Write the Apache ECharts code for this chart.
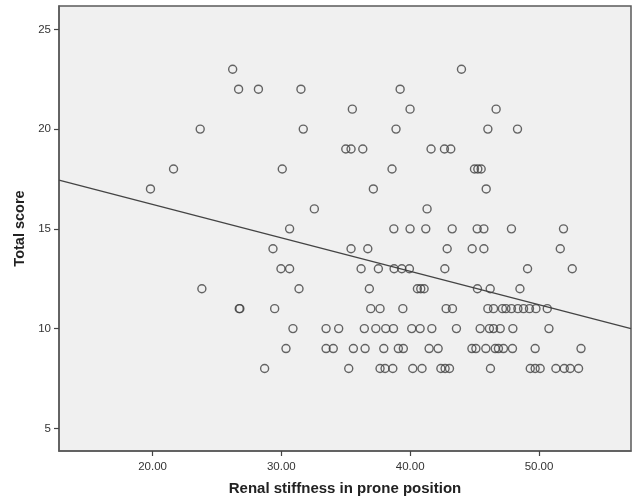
<!DOCTYPE html>
<html>
<head>
<meta charset="utf-8">
<script src="https://cdn.jsdelivr.net/npm/echarts@6/dist/echarts.min.js"></script>
<style>
html,body{margin:0;padding:0;background:#fff;}
#chart{width:635px;height:501px;}
</style>
</head>
<body>
<div id="chart"></div>
<script>
// Renal stiffness (x) values grouped by Total score (y)
const score23 = [26.22, 43.98];
const score22 = [26.68, 28.22, 31.52, 39.22];
const score21 = [35.51, 39.99, 46.67];
const score20 = [23.70, 31.70, 38.90, 46.03, 48.33];
const score19 = [35.00, 35.41, 36.32, 41.62, 42.66, 43.15];
const score18 = [21.63, 30.07, 38.59, 44.99, 45.25, 45.51];
const score17 = [19.84, 37.14, 45.90];
const score16 = [32.56, 41.31];
const score15 = [30.64, 38.73, 39.99, 41.21, 43.26, 45.20, 45.72, 47.86, 51.90];
const score14 = [29.35, 35.41, 36.71, 42.87, 44.81, 45.72, 51.65];
const score13 = [29.97, 30.64, 36.19, 37.53, 38.75, 39.35, 39.94, 42.69, 49.11, 52.58];
const score12 = [23.83, 31.37, 36.83, 40.56, 40.82, 41.08, 45.22, 46.21, 48.52];
const score11 = [26.73, 26.78, 29.48, 36.94, 37.66, 39.43, 42.79, 43.28, 46.03, 46.47, 47.16, 47.43, 47.86, 48.36, 48.80, 49.26, 49.76, 50.64];
const score10 = [30.90, 33.47, 34.45, 36.44, 37.33, 38.10, 38.70, 40.12, 40.77, 41.68, 43.59, 45.43, 46.15, 46.47, 46.99, 47.97, 50.77];
const score9 = [30.36, 33.47, 34.03, 35.59, 36.50, 37.95, 39.08, 39.47, 41.47, 42.17, 44.79, 45.10, 45.87, 46.60, 46.85, 47.24, 47.94, 49.70, 53.26];
const score8 = [28.70, 35.23, 37.66, 38.05, 38.65, 40.20, 40.92, 42.38, 42.71, 43.05, 46.23, 49.32, 49.70, 50.09, 51.31, 51.96, 52.42, 53.07];

const scoreGroups = [
  [23, score23], [22, score22], [21, score21], [20, score20], [19, score19],
  [18, score18], [17, score17], [16, score16], [15, score15], [14, score14],
  [13, score13], [12, score12], [11, score11], [10, score10], [9, score9], [8, score8]
];

const xTicks = [20, 30, 40, 50];
const yTicks = [5, 10, 15, 20, 25];

// Linear fit line: Total score = fitIntercept + fitSlope * stiffness
const fitIntercept = 19.58;
const fitSlope = -0.1677;

const xMin = 12.74, xMax = 57.14;
const yMin = 3.865, yMax = 26.17;

const points = [];
scoreGroups.forEach(([score, arr]) => arr.forEach(x => points.push([x, score])));
const fitLine = [xMin, xMax].map(x => [x, fitIntercept + fitSlope * x]);

const chart = echarts.init(document.getElementById('chart'), null, {renderer: 'canvas'});
const font = 'Arial, "Liberation Sans", sans-serif';
chart.setOption({
  animation: false,
  backgroundColor: '#ffffff',
  grid: {
    left: 59, right: 4, top: 6, bottom: 49,
    show: true, backgroundColor: '#f0f0f0', borderColor: '#5a5a5a', borderWidth: 1.5
  },
  xAxis: {
    type: 'value', min: xMin, max: xMax,
    name: 'Renal stiffness in prone position',
    nameLocation: 'middle', nameGap: 30,
    nameTextStyle: {fontFamily: font, fontSize: 15, fontWeight: 'bold', color: '#222'},
    axisLine: {show: true, onZero: false, lineStyle: {color: '#5a5a5a', width: 1.5}},
    axisTick: {show: true, customValues: xTicks, length: 5, lineStyle: {color: '#444', width: 1.2}},
    axisLabel: {customValues: xTicks, formatter: v => v.toFixed(2), margin: 10,
      fontFamily: font, fontSize: 11.5, color: '#333'},
    splitLine: {show: false}
  },
  yAxis: {
    type: 'value', min: yMin, max: yMax,
    name: 'Total score',
    nameLocation: 'middle', nameGap: 26,
    nameTextStyle: {fontFamily: font, fontSize: 14.5, fontWeight: 'bold', color: '#222'},
    axisLine: {show: true, onZero: false, lineStyle: {color: '#5a5a5a', width: 1.5}},
    axisTick: {show: true, customValues: yTicks, length: 5, lineStyle: {color: '#444', width: 1.2}},
    axisLabel: {customValues: yTicks, margin: 8, fontFamily: font, fontSize: 11.5, color: '#333'},
    splitLine: {show: false}
  },
  series: [
    {
      type: 'line', data: fitLine, symbol: 'none', silent: true,
      lineStyle: {color: '#444', width: 1.3}, z: 2
    },
    {
      type: 'scatter', data: points, symbol: 'circle', symbolSize: 8,
      itemStyle: {color: 'rgba(0,0,0,0)', borderColor: '#404040', borderWidth: 1.4}, z: 3
    }
  ]
});
</script>
</body>
</html>
